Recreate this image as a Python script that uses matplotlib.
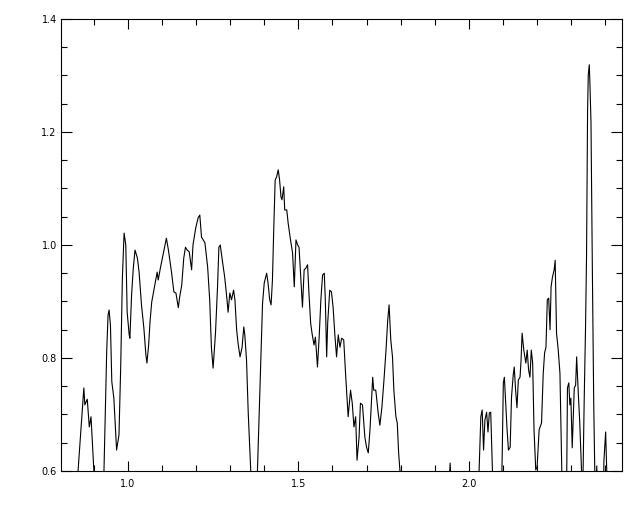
import numpy as np
import matplotlib
matplotlib.use("Agg")
import matplotlib.pyplot as plt
from matplotlib.ticker import MultipleLocator

# spectrum (values < 0.6 fall below the frame)
wave = [
    0.848, 0.854, 0.871, 0.874, 0.881, 0.887, 0.892, 0.900, 0.906,
    0.924, 0.930, 0.938, 0.942, 0.945, 0.949, 0.953, 0.959, 0.967, 0.974,
    0.979, 0.984, 0.989, 0.994, 0.998, 1.004, 1.006, 1.011, 1.016, 1.021,
    1.028, 1.033, 1.040, 1.047, 1.053, 1.056, 1.061, 1.065, 1.070, 1.079,
    1.086, 1.089, 1.096, 1.102, 1.109, 1.113, 1.119, 1.128, 1.135, 1.141,
    1.148, 1.152, 1.158, 1.164, 1.169, 1.174, 1.180, 1.187, 1.191, 1.199,
    1.206, 1.211, 1.216, 1.226, 1.234, 1.240, 1.245, 1.250, 1.257, 1.263,
    1.267, 1.271, 1.277, 1.284, 1.290, 1.294, 1.299, 1.304, 1.310, 1.314,
    1.319, 1.323, 1.329, 1.335, 1.340, 1.343, 1.348, 1.353, 1.358, 1.364,
    1.375, 1.380, 1.384, 1.390, 1.395, 1.400, 1.407, 1.411, 1.416, 1.420,
    1.424, 1.428, 1.432, 1.436, 1.441, 1.445, 1.449, 1.452, 1.457, 1.460,
    1.466, 1.470, 1.477, 1.483, 1.488, 1.493, 1.498, 1.502, 1.507, 1.512,
    1.517, 1.522, 1.527, 1.531, 1.536, 1.540, 1.546, 1.550, 1.556, 1.561,
    1.566, 1.571, 1.576, 1.579, 1.583, 1.586, 1.592, 1.597, 1.602, 1.607,
    1.612, 1.617, 1.622, 1.627, 1.633, 1.639, 1.646, 1.653, 1.658, 1.663,
    1.668, 1.672, 1.678, 1.682, 1.688, 1.695, 1.700, 1.705, 1.710, 1.715,
    1.718, 1.721, 1.727, 1.734, 1.739, 1.745, 1.751, 1.757, 1.762, 1.766,
    1.771, 1.776, 1.780, 1.786, 1.790, 1.794, 1.798, 1.804,
    1.940, 1.945, 1.950,
    2.025, 2.030, 2.035, 2.039, 2.043, 2.047, 2.052, 2.056, 2.060, 2.064,
    2.069, 2.073, 2.092, 2.097, 2.101, 2.104, 2.108, 2.112, 2.116, 2.121,
    2.125, 2.130, 2.133, 2.137, 2.141, 2.145, 2.150, 2.153, 2.156, 2.161,
    2.167, 2.171, 2.175, 2.179, 2.183, 2.187, 2.191, 2.196, 2.200, 2.206,
    2.213, 2.218, 2.222, 2.226, 2.230, 2.234, 2.238, 2.241, 2.245, 2.250,
    2.253, 2.257, 2.262, 2.267, 2.272, 2.274, 2.284, 2.287, 2.289, 2.293,
    2.296, 2.299, 2.303, 2.309, 2.313, 2.316, 2.321, 2.325, 2.330, 2.333,
    2.335, 2.338, 2.342, 2.345, 2.348, 2.350, 2.353, 2.355, 2.358, 2.362,
    2.366, 2.369, 2.372, 2.375, 2.378, 2.394, 2.396, 2.401, 2.404, 2.408,
    2.449,
]
flux = [
    0.55, 0.600, 0.747, 0.717, 0.727, 0.678, 0.696, 0.605, 0.55,
    0.55, 0.600, 0.811, 0.876, 0.885, 0.858, 0.758, 0.729, 0.637, 0.664,
    0.782, 0.942, 1.021, 1.000, 0.881, 0.841, 0.835, 0.912, 0.959, 0.991,
    0.977, 0.952, 0.894, 0.853, 0.805, 0.791, 0.823, 0.864, 0.899, 0.929,
    0.952, 0.938, 0.961, 0.979, 1.000, 1.012, 0.991, 0.952, 0.917, 0.915,
    0.889, 0.908, 0.929, 0.977, 0.996, 0.991, 0.988, 0.956, 1.000, 1.030,
    1.048, 1.053, 1.014, 1.004, 0.961, 0.903, 0.819, 0.782, 0.844, 0.926,
    0.996, 1.000, 0.973, 0.943, 0.908, 0.881, 0.915, 0.903, 0.920, 0.903,
    0.850, 0.827, 0.802, 0.819, 0.855, 0.841, 0.796, 0.703, 0.632, 0.55,
    0.55, 0.600, 0.678, 0.796, 0.897, 0.933, 0.950, 0.933, 0.903, 0.894,
    0.938, 1.032, 1.115, 1.120, 1.133, 1.115, 1.085, 1.080, 1.103, 1.062,
    1.062, 1.039, 1.009, 0.986, 0.926, 1.009, 1.000, 0.996, 0.943, 0.890,
    0.956, 0.959, 0.965, 0.915, 0.862, 0.844, 0.823, 0.837, 0.784, 0.837,
    0.903, 0.947, 0.950, 0.903, 0.802, 0.862, 0.920, 0.917, 0.889, 0.841,
    0.802, 0.841, 0.819, 0.835, 0.832, 0.766, 0.696, 0.743, 0.720, 0.678,
    0.696, 0.619, 0.660, 0.720, 0.717, 0.660, 0.642, 0.632, 0.673, 0.731,
    0.766, 0.743, 0.743, 0.703, 0.681, 0.713, 0.761, 0.814, 0.867, 0.894,
    0.832, 0.802, 0.743, 0.696, 0.685, 0.632, 0.600, 0.55,
    0.55, 0.614, 0.55,
    0.55, 0.602, 0.696, 0.708, 0.637, 0.690, 0.704, 0.669, 0.703, 0.704,
    0.602, 0.55, 0.55, 0.602, 0.756, 0.766, 0.720, 0.673, 0.637, 0.642,
    0.731, 0.770, 0.784, 0.743, 0.712, 0.761, 0.766, 0.796, 0.844, 0.814,
    0.791, 0.814, 0.779, 0.766, 0.814, 0.791, 0.673, 0.602, 0.607, 0.673,
    0.685, 0.773, 0.809, 0.819, 0.903, 0.906, 0.850, 0.926, 0.943, 0.956,
    0.973, 0.844, 0.814, 0.773, 0.607, 0.55, 0.55, 0.600, 0.747, 0.756,
    0.717, 0.729, 0.641, 0.747, 0.752, 0.802, 0.735, 0.687, 0.605, 0.55,
    0.605, 0.722, 0.853, 0.982, 1.235, 1.301, 1.319, 1.283, 1.218, 0.959,
    0.722, 0.605, 0.55, 0.609, 0.55, 0.55, 0.619, 0.669, 0.605, 0.55,
    0.55,
]

x_major = [1.0, 1.5, 2.0]
y_major = [0.6, 0.8, 1.0, 1.2, 1.4]

fig = plt.figure(figsize=(6.4, 5.12), dpi=100)
ax = fig.add_axes([0.0953, 0.0801, 0.8766, 0.8828])

ax.plot(wave, flux, color="black", linewidth=0.8)

ax.set_xlim(0.804, 2.449)
ax.set_ylim(0.6, 1.4)

ax.set_xticks(x_major)
ax.set_yticks(y_major)
ax.set_xticklabels([f"{v:.1f}" for v in x_major])
ax.set_yticklabels([f"{v:.1f}" for v in y_major])
ax.xaxis.set_minor_locator(MultipleLocator(0.1))
ax.yaxis.set_minor_locator(MultipleLocator(0.05))

ax.tick_params(which="both", direction="in", top=True, right=True,
               width=0.8, labelsize=7, colors="black")
ax.tick_params(axis="y", which="major", length=8, pad=3)
ax.tick_params(axis="y", which="minor", length=4)
ax.tick_params(axis="x", which="major", length=7, pad=6)
ax.tick_params(axis="x", which="minor", length=4)

for s in ax.spines.values():
    s.set_linewidth(0.8)

fig.savefig("out.png", dpi=100)
